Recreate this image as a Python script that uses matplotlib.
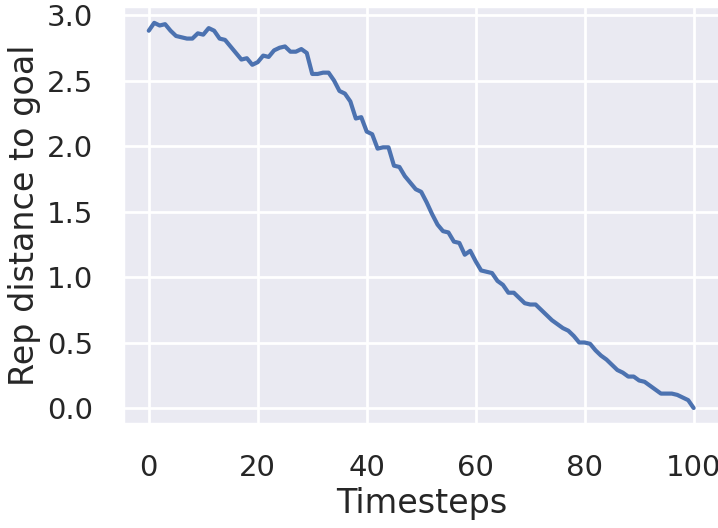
import numpy as np
import matplotlib
matplotlib.use("Agg")
import matplotlib.pyplot as plt
import seaborn as sns

# distance values, one per timestep 0..100
timesteps = np.arange(101)
rep_dist = [
    2.88, 2.94, 2.92, 2.93, 2.88, 2.84, 2.83, 2.82, 2.82, 2.86,
    2.85, 2.90, 2.88, 2.82, 2.81, 2.76, 2.71, 2.66, 2.67, 2.62,
    2.64, 2.69, 2.68, 2.73, 2.75, 2.76, 2.72, 2.72, 2.74, 2.71,
    2.55, 2.55, 2.56, 2.56, 2.50, 2.42, 2.40, 2.34, 2.21, 2.22,
    2.11, 2.09, 1.98, 1.99, 1.99, 1.85, 1.84, 1.77, 1.72, 1.67,
    1.65, 1.57, 1.48, 1.40, 1.35, 1.34, 1.27, 1.26, 1.17, 1.20,
    1.12, 1.05, 1.04, 1.03, 0.97, 0.94, 0.88, 0.88, 0.84, 0.80,
    0.79, 0.79, 0.75, 0.71, 0.67, 0.64, 0.61, 0.59, 0.55, 0.50,
    0.50, 0.49, 0.44, 0.40, 0.37, 0.33, 0.29, 0.27, 0.24, 0.24,
    0.21, 0.20, 0.17, 0.14, 0.11, 0.11, 0.11, 0.10, 0.08, 0.06,
    0.00,
]
xticks = [0, 20, 40, 60, 80, 100]
yticks = [0.0, 0.5, 1.0, 1.5, 2.0, 2.5, 3.0]

sns.set_theme(style="darkgrid", context="poster")
plt.rcParams["xtick.labelsize"] = 21
plt.rcParams["ytick.labelsize"] = 21
plt.rcParams["xtick.major.pad"] = 9.5
plt.rcParams["ytick.major.pad"] = 9.5

fig = plt.figure(figsize=(7.18, 5.28), dpi=100)
ax = fig.add_axes([0.1713, 0.197, 0.8327, 0.7917])
ax.plot(timesteps, rep_dist)
ax.set_xlim(-4.73, 105)
ax.set_ylim(-0.122, 3.069)
ax.set_xticks(xticks)
ax.set_yticks(yticks)
ax.set_yticklabels(["%.1f" % v for v in yticks])
ax.set_xlabel("Timesteps")
ax.set_ylabel("Rep distance to goal")

fig.savefig("out.png", dpi=100)
